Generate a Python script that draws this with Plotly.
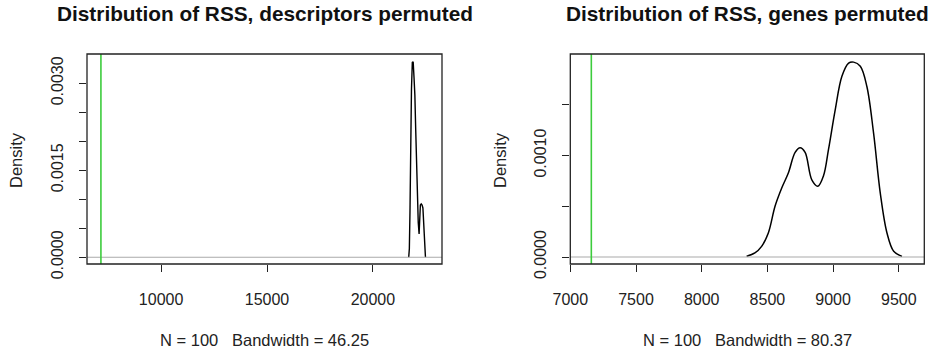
import plotly.graph_objects as go

# ---- data ----
OBSERVED_RSS = 7160

DESC_X = [21690, 21720, 21750, 21780, 21820, 21860, 21900, 21940, 21980, 22020, 22060,
          22100, 22140, 22180, 22210, 22240, 22280, 22320, 22360, 22400, 22430, 22460, 22480]
DESC_Y = [0.0, 0.00015, 0.0008, 0.0019, 0.0029, 0.00336, 0.00337, 0.0031, 0.0028, 0.0022, 0.0016,
          0.0011, 0.0006, 0.0004, 0.0006, 0.0009, 0.00092, 0.0009, 0.00085, 0.0006, 0.0003, 0.00008, 0.0]

GENE_X = [8342, 8405, 8456, 8507, 8558, 8609, 8660, 8711, 8749, 8787, 8838, 8884, 8927,
          8965, 9016, 9067, 9118, 9156, 9207, 9257, 9308, 9359, 9410, 9461, 9524]
GENE_Y = [0.0000066, 0.00004, 0.000105, 0.000237, 0.0005, 0.00068, 0.00083, 0.00103, 0.001076,
          0.00103, 0.00076, 0.000697, 0.0008, 0.00106, 0.00145, 0.00178, 0.00191, 0.00192,
          0.00188, 0.00168, 0.00122, 0.00063, 0.000237, 0.000056, 0.0000066]

TITLES = ["Distribution of RSS, descriptors permuted", "Distribution of RSS, genes permuted"]
XLABELS = ["N = 100   Bandwidth = 46.25", "N = 100   Bandwidth = 80.37"]
YLABEL = "Density"

LEFT_XTICKS = [10000, 15000, 20000]
LEFT_XTICKTEXT = ["10000", "15000", "20000"]
LEFT_YTICKS = [0, 0.0005, 0.001, 0.0015, 0.002, 0.0025, 0.003]
LEFT_YTICKTEXT = ["0.0000", "", "", "0.0015", "", "", "0.0030"]
RIGHT_XTICKS = [7000, 7500, 8000, 8500, 9000, 9500]
RIGHT_XTICKTEXT = ["7000", "7500", "8000", "8500", "9000", "9500"]
RIGHT_YTICKS = [0, 0.0005, 0.001, 0.0015]
RIGHT_YTICKTEXT = ["0.0000", "", "0.0010", ""]

LEFT_XRANGE = [6503, 23261]
LEFT_YRANGE = [-0.000116, 0.003505]
RIGHT_XRANGE = [7000, 9694]
RIGHT_YRANGE = [-0.000069, 0.002]

W, H = 931, 354
FONT = "Liberation Sans, Arial, sans-serif"

fig = go.Figure()

fig.add_trace(go.Scatter(x=DESC_X, y=DESC_Y, mode="lines", line=dict(color="black", width=1.4),
                         xaxis="x", yaxis="y", showlegend=False, hoverinfo="skip"))
fig.add_trace(go.Scatter(x=GENE_X, y=GENE_Y, mode="lines", line=dict(color="black", width=1.5, shape="spline"),
                         xaxis="x2", yaxis="y2", showlegend=False, hoverinfo="skip"))

ydom = [1 - 264 / H, 1 - 54 / H]
xdom1 = [87 / W, 442 / W]
xdom2 = [570.3 / W, 924.3 / W]

axis_common = dict(showgrid=False, zeroline=False, showline=False, ticks="outside", ticklen=7,
                   automargin=False,
                   tickcolor="#222", tickwidth=1, tickfont=dict(family=FONT, size=16, color="#222"))

fig.update_layout(
    width=W, height=H, margin=dict(l=0, r=0, t=0, b=0, pad=0), autosize=False,
    paper_bgcolor="white", plot_bgcolor="white",
    xaxis=dict(domain=xdom1, range=LEFT_XRANGE, tickvals=LEFT_XTICKS, ticktext=LEFT_XTICKTEXT,
               anchor="y", ticklabelstandoff=14, **axis_common),
    yaxis=dict(domain=ydom, range=LEFT_YRANGE, tickvals=LEFT_YTICKS, ticktext=LEFT_YTICKTEXT,
               anchor="x", tickangle=-90, ticklabelstandoff=10, **axis_common),
    xaxis2=dict(domain=xdom2, range=RIGHT_XRANGE, tickvals=RIGHT_XTICKS, ticktext=RIGHT_XTICKTEXT,
                anchor="y2", ticklabelstandoff=14, **axis_common),
    yaxis2=dict(domain=ydom, range=RIGHT_YRANGE, tickvals=RIGHT_YTICKS, ticktext=RIGHT_YTICKTEXT,
                anchor="x2", tickangle=-90, ticklabelstandoff=10, **axis_common),
)

shapes = []
for xr, yr in [("x", "y"), ("x2", "y2")]:
    # horizontal gray line at zero
    shapes.append(dict(type="line", xref=f"{xr} domain", yref=yr, x0=0, x1=1, y0=0, y1=0,
                       line=dict(color="#aaaaaa", width=1.2)))
    # observed RSS
    shapes.append(dict(type="line", xref=xr, yref=f"{yr} domain", x0=OBSERVED_RSS, x1=OBSERVED_RSS,
                       y0=0, y1=1, line=dict(color="#3dcc3d", width=1.6)))
    # box
    shapes.append(dict(type="rect", xref=f"{xr} domain", yref=f"{yr} domain", x0=0, x1=1, y0=0, y1=1,
                       line=dict(color="#222", width=1.3), fillcolor="rgba(0,0,0,0)"))
fig.update_layout(shapes=shapes)

ann = []
for i, (xd, title, xl) in enumerate([(xdom1, TITLES[0], XLABELS[0]), (xdom2, TITLES[1], XLABELS[1])]):
    cx = (xd[0] + xd[1]) / 2
    ann.append(dict(text=f"<b>{title}</b>", x=cx, y=1 - 14 / H, xref="paper", yref="paper",
                    showarrow=False, xanchor="center", yanchor="middle",
                    font=dict(family=FONT, size=20.8, color="#111")))
    ann.append(dict(text=xl, x=cx, y=1 - 340 / H, xref="paper", yref="paper",
                    showarrow=False, xanchor="center", yanchor="middle",
                    font=dict(family=FONT, size=16.5, color="#222")))
for xpix in [16, 500]:
    ann.append(dict(text=YLABEL, x=xpix / W, y=1 - 160 / H, xref="paper", yref="paper",
                    showarrow=False, xanchor="center", yanchor="middle", textangle=-90,
                    font=dict(family=FONT, size=16.5, color="#222")))
fig.update_layout(annotations=ann)

fig.write_html("out.html")
